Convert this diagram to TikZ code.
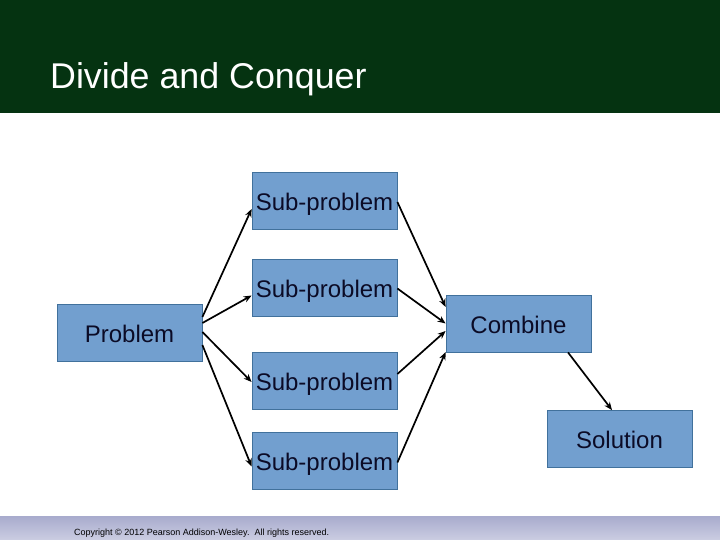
\documentclass[tikz,border=0pt]{standalone}
\usepackage{fontspec}
\setmainfont{Liberation Sans}
\usetikzlibrary{arrows.meta,calc}
\definecolor{bandgreen}{HTML}{053311}
\definecolor{boxfill}{HTML}{729FCF}
\definecolor{boxline}{HTML}{41719C}
\definecolor{boxtext}{HTML}{0B0B26}
\definecolor{foottop}{HTML}{A8ABCD}
\definecolor{footbot}{HTML}{CBCDE2}
\tikzset{
  blockbox/.style={draw=boxline, line width=0.8pt, fill=boxfill, text=boxtext,
    minimum width=145pt, minimum height=57pt, inner sep=0pt,
    text height=19pt, text depth=0pt,
    font=\fontsize{24}{28}\selectfont},
  arr/.style={line width=1.7pt, -{Stealth[length=8pt,width=6.5pt]}}
}
\begin{document}
\begin{tikzpicture}[x=1pt,y=-1pt]
\useasboundingbox (0,0) rectangle (720,540);
\fill[white] (0,0) rectangle (720,540);
\fill[bandgreen] (0,0) rectangle (720,113);
\shade[top color=foottop, bottom color=footbot] (0,516) rectangle (720,540);
\node[anchor=base west, text=white, inner sep=0pt, font=\fontsize{35.8}{42}\selectfont] (title) at (50,89) {Divide and Conquer};
\node[anchor=base west, text=black, inner sep=0pt, font=\fontsize{9}{11}\selectfont] (copy) at (74,535) {Copyright \textcopyright{} 2012 Pearson Addison-Wesley.\ \ All rights reserved.};

\node[blockbox] (sub1) at (324.5,201) {Sub-problem};
\node[blockbox] (sub2) at (324.5,287.5) {Sub-problem};
\node[blockbox] (sub3) at (324.5,381) {Sub-problem};
\node[blockbox] (sub4) at (324.5,460.5) {Sub-problem};
\node[blockbox] (prob) at (129.5,333) {Problem};
\node[blockbox] (comb) at (518.5,323.5) {Combine};
\node[blockbox] (sol) at (619.5,439) {Solution};

\draw[arr] ([yshift=16pt]prob.east) -- ([yshift=-8pt]sub1.west);
\draw[arr] ([yshift=10pt]prob.east) -- ([yshift=-8pt]sub2.west);
\draw[arr] ([yshift=1pt]prob.east) -- ([yshift=-1pt]sub3.west);
\draw[arr] ([yshift=-12pt]prob.east) -- ([yshift=-6pt]sub4.west);

\draw[arr] ([yshift=-1pt]sub1.east) -- ([yshift=16.5pt]comb.west);
\draw[arr] ([yshift=-1pt]sub2.east) -- ([yshift=0pt]comb.west);
\draw[arr] ([yshift=7pt]sub3.east) -- ([yshift=-7.5pt]comb.west);
\draw[arr] ([yshift=-2pt]sub4.east) -- ([yshift=-28.5pt]comb.west);

\draw[arr] ([xshift=49.5pt]comb.south) -- ([xshift=-7.5pt]sol.north);
\end{tikzpicture}
\end{document}
